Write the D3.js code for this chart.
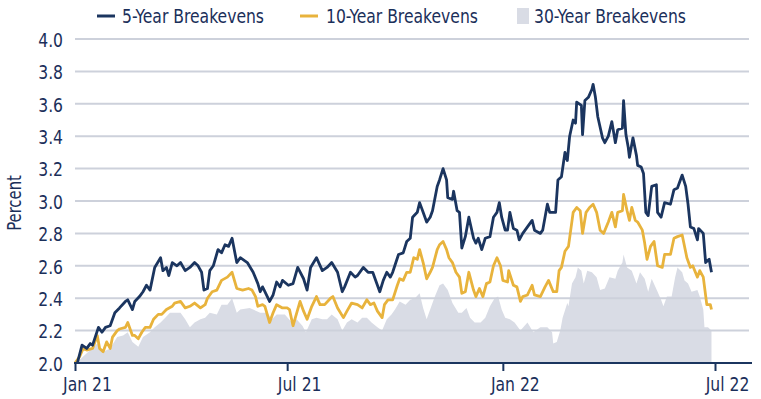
<!DOCTYPE html>
<html>
<head>
<meta charset="utf-8">
<script src="https://cdn.jsdelivr.net/npm/d3@7"></script>
<style>
  body { margin: 0; background: #fff; }
  text { font-family: "Liberation Sans Narrow", "DejaVu Sans", sans-serif; font-stretch: condensed; fill: #1b2f5a; }
</style>
</head>
<body>
<script>
// breakeven data
const fiveYear = [
["2021-01-03",2.00],["2021-01-07",2.11],["2021-01-11",2.09],["2021-01-14",2.12],["2021-01-16",2.11],["2021-01-21",2.22],
["2021-01-24",2.19],["2021-01-27",2.22],["2021-01-31",2.23],["2021-02-04",2.31],["2021-02-08",2.34],["2021-02-13",2.38],
["2021-02-15",2.39],["2021-02-19",2.33],["2021-02-21",2.38],["2021-02-25",2.41],["2021-02-28",2.44],["2021-03-03",2.48],
["2021-03-06",2.45],["2021-03-10",2.59],["2021-03-15",2.65],["2021-03-17",2.57],["2021-03-20",2.59],["2021-03-22",2.54],
["2021-03-25",2.62],["2021-03-29",2.60],["2021-04-01",2.62],["2021-04-05",2.57],["2021-04-09",2.59],["2021-04-13",2.62],
["2021-04-16",2.60],["2021-04-19",2.56],["2021-04-21",2.45],["2021-04-24",2.46],["2021-04-26",2.57],["2021-04-29",2.60],
["2021-05-03",2.70],["2021-05-06",2.68],["2021-05-09",2.73],["2021-05-12",2.72],["2021-05-15",2.77],["2021-05-19",2.62],
["2021-05-22",2.65],["2021-05-28",2.62],["2021-06-02",2.56],["2021-06-06",2.49],["2021-06-08",2.44],["2021-06-10",2.47],
["2021-06-12",2.44],["2021-06-16",2.38],["2021-06-19",2.42],["2021-06-22",2.50],["2021-06-25",2.47],["2021-06-27",2.51],
["2021-07-02",2.48],["2021-07-06",2.49],["2021-07-10",2.59],["2021-07-15",2.52],["2021-07-18",2.45],["2021-07-21",2.59],
["2021-07-26",2.65],["2021-07-31",2.57],["2021-08-04",2.59],["2021-08-08",2.62],["2021-08-13",2.56],["2021-08-17",2.44],
["2021-08-19",2.47],["2021-08-24",2.56],["2021-08-28",2.53],["2021-08-30",2.54],["2021-09-04",2.59],["2021-09-08",2.56],
["2021-09-12",2.56],["2021-09-16",2.48],["2021-09-18",2.44],["2021-09-21",2.51],["2021-09-24",2.56],["2021-09-27",2.53],
["2021-09-29",2.56],["2021-10-04",2.67],["2021-10-08",2.68],["2021-10-11",2.75],["2021-10-14",2.77],["2021-10-16",2.90],
["2021-10-20",2.93],["2021-10-22",2.99],["2021-10-25",2.93],["2021-10-28",2.87],["2021-10-31",2.90],["2021-11-02",2.94],
["2021-11-06",3.09],["2021-11-08",3.13],["2021-11-11",3.20],["2021-11-14",3.13],["2021-11-15",3.02],["2021-11-19",3.01],
["2021-11-20",3.06],["2021-11-23",2.94],["2021-11-25",2.93],["2021-11-27",2.71],["2021-11-30",2.78],["2021-12-03",2.90],
["2021-12-07",2.77],["2021-12-09",2.74],["2021-12-11",2.77],["2021-12-14",2.70],["2021-12-17",2.77],["2021-12-21",2.78],
["2021-12-24",2.90],["2021-12-27",2.93],["2021-12-29",2.99],["2021-12-31",2.90],["2022-01-03",2.82],["2022-01-05",2.82],
["2022-01-07",2.93],["2022-01-10",2.83],["2022-01-13",2.82],["2022-01-15",2.76],["2022-01-18",2.80],["2022-01-22",2.84],
["2022-01-26",2.88],["2022-01-28",2.82],["2022-02-02",2.80],["2022-02-04",2.82],["2022-02-08",2.98],["2022-02-10",2.93],
["2022-02-15",2.93],["2022-02-17",3.13],["2022-02-20",3.15],["2022-02-23",3.30],["2022-02-25",3.25],["2022-02-27",3.40],
["2022-03-02",3.50],["2022-03-04",3.48],["2022-03-05",3.61],["2022-03-09",3.59],["2022-03-10",3.41],["2022-03-12",3.62],
["2022-03-15",3.64],["2022-03-18",3.69],["2022-03-19",3.72],["2022-03-21",3.64],["2022-03-23",3.52],["2022-03-27",3.39],
["2022-03-29",3.36],["2022-04-01",3.40],["2022-04-04",3.49],["2022-04-07",3.36],["2022-04-09",3.44],["2022-04-13",3.45],
["2022-04-14",3.62],["2022-04-16",3.41],["2022-04-18",3.33],["2022-04-19",3.27],["2022-04-22",3.39],["2022-04-25",3.28],
["2022-04-26",3.22],["2022-04-29",3.21],["2022-05-01",3.17],["2022-05-03",2.93],["2022-05-05",2.91],["2022-05-08",3.09],
["2022-05-12",3.10],["2022-05-13",2.93],["2022-05-16",2.90],["2022-05-19",2.99],["2022-05-24",2.98],["2022-05-27",3.07],
["2022-05-30",3.08],["2022-06-03",3.16],["2022-06-06",3.09],["2022-06-08",2.98],["2022-06-10",2.84],["2022-06-13",2.83],
["2022-06-16",2.76],["2022-06-17",2.83],["2022-06-21",2.80],["2022-06-23",2.62],["2022-06-26",2.64],["2022-06-28",2.56]
];

const tenYear = [
["2021-01-01",2.00],["2021-01-05",2.04],["2021-01-08",2.09],["2021-01-11",2.08],["2021-01-16",2.09],["2021-01-20",2.17],
["2021-01-22",2.09],["2021-01-25",2.07],["2021-01-28",2.13],["2021-01-31",2.09],["2021-02-02",2.16],["2021-02-06",2.20],
["2021-02-08",2.21],["2021-02-13",2.22],["2021-02-15",2.25],["2021-02-19",2.17],["2021-02-21",2.17],["2021-02-24",2.15],
["2021-02-27",2.19],["2021-03-02",2.22],["2021-03-06",2.22],["2021-03-09",2.27],["2021-03-13",2.30],["2021-03-16",2.30],
["2021-03-20",2.33],["2021-03-25",2.35],["2021-03-27",2.37],["2021-04-01",2.38],["2021-04-05",2.34],["2021-04-09",2.35],
["2021-04-13",2.37],["2021-04-18",2.34],["2021-04-22",2.36],["2021-04-24",2.40],["2021-04-28",2.44],["2021-05-02",2.45],
["2021-05-06",2.51],["2021-05-11",2.53],["2021-05-15",2.56],["2021-05-19",2.46],["2021-05-24",2.45],["2021-05-29",2.46],
["2021-06-01",2.45],["2021-06-04",2.41],["2021-06-06",2.35],["2021-06-10",2.36],["2021-06-12",2.35],["2021-06-16",2.25],
["2021-06-19",2.31],["2021-06-22",2.36],["2021-06-27",2.34],["2021-07-01",2.34],["2021-07-03",2.33],["2021-07-06",2.23],
["2021-07-08",2.28],["2021-07-12",2.38],["2021-07-15",2.32],["2021-07-18",2.27],["2021-07-22",2.35],["2021-07-26",2.41],
["2021-07-29",2.36],["2021-08-02",2.36],["2021-08-07",2.40],["2021-08-09",2.41],["2021-08-13",2.34],["2021-08-18",2.28],
["2021-08-21",2.32],["2021-08-25",2.37],["2021-08-30",2.36],["2021-09-03",2.34],["2021-09-07",2.39],["2021-09-10",2.36],
["2021-09-13",2.37],["2021-09-16",2.32],["2021-09-20",2.28],["2021-09-22",2.36],["2021-09-25",2.39],["2021-09-29",2.39],
["2021-10-03",2.48],["2021-10-05",2.52],["2021-10-08",2.51],["2021-10-11",2.56],["2021-10-14",2.56],["2021-10-17",2.65],
["2021-10-20",2.64],["2021-10-22",2.70],["2021-10-25",2.62],["2021-10-28",2.52],["2021-10-31",2.56],["2021-11-02",2.59],
["2021-11-06",2.70],["2021-11-08",2.73],["2021-11-11",2.75],["2021-11-14",2.70],["2021-11-16",2.65],["2021-11-19",2.62],
["2021-11-22",2.56],["2021-11-25",2.53],["2021-11-27",2.43],["2021-11-30",2.44],["2021-12-03",2.56],["2021-12-07",2.45],
["2021-12-09",2.41],["2021-12-12",2.46],["2021-12-15",2.41],["2021-12-18",2.49],["2021-12-21",2.50],["2021-12-24",2.60],
["2021-12-27",2.65],["2021-12-30",2.60],["2022-01-01",2.51],["2022-01-05",2.50],["2022-01-06",2.57],["2022-01-10",2.48],
["2022-01-13",2.47],["2022-01-16",2.38],["2022-01-18",2.41],["2022-01-22",2.42],["2022-01-26",2.48],["2022-01-28",2.42],
["2022-02-02",2.41],["2022-02-06",2.47],["2022-02-09",2.51],["2022-02-13",2.44],["2022-02-16",2.44],["2022-02-18",2.57],
["2022-02-20",2.59],["2022-02-23",2.69],["2022-02-26",2.72],["2022-03-02",2.93],["2022-03-05",2.96],["2022-03-08",2.94],
["2022-03-10",2.80],["2022-03-13",2.93],["2022-03-16",2.96],["2022-03-19",2.98],["2022-03-22",2.93],["2022-03-25",2.82],
["2022-03-28",2.80],["2022-04-01",2.87],["2022-04-04",2.93],["2022-04-07",2.84],["2022-04-09",2.93],["2022-04-13",2.94],
["2022-04-14",3.04],["2022-04-17",2.94],["2022-04-19",2.88],["2022-04-21",2.96],["2022-04-24",2.88],["2022-04-26",2.87],
["2022-04-30",2.82],["2022-05-02",2.74],["2022-05-04",2.64],["2022-05-07",2.72],["2022-05-10",2.75],["2022-05-13",2.60],
["2022-05-17",2.59],["2022-05-19",2.67],["2022-05-24",2.67],["2022-05-27",2.77],["2022-05-30",2.78],["2022-06-03",2.79],
["2022-06-07",2.65],["2022-06-10",2.59],["2022-06-12",2.60],["2022-06-16",2.53],["2022-06-18",2.57],["2022-06-21",2.53],
["2022-06-24",2.36],["2022-06-27",2.36],["2022-06-28",2.33]
];

const thirtyYear = [
["2021-01-01",2.00],["2021-01-05",2.02],["2021-01-11",2.06],["2021-01-20",2.12],["2021-01-25",2.07],["2021-01-31",2.09],
["2021-02-06",2.16],["2021-02-11",2.17],["2021-02-15",2.19],["2021-02-19",2.13],["2021-02-24",2.10],["2021-02-28",2.16],
["2021-03-06",2.19],["2021-03-10",2.22],["2021-03-15",2.25],["2021-03-19",2.28],["2021-03-23",2.31],["2021-03-27",2.31],
["2021-04-01",2.31],["2021-04-05",2.27],["2021-04-09",2.22],["2021-04-13",2.25],["2021-04-18",2.27],["2021-04-22",2.28],
["2021-04-26",2.31],["2021-05-02",2.30],["2021-05-06",2.36],["2021-05-11",2.36],["2021-05-15",2.40],["2021-05-19",2.31],
["2021-05-22",2.33],["2021-05-30",2.34],["2021-06-08",2.31],["2021-06-14",2.31],["2021-06-18",2.27],["2021-06-22",2.30],
["2021-06-29",2.30],["2021-07-05",2.25],["2021-07-09",2.27],["2021-07-14",2.23],["2021-07-17",2.19],["2021-07-22",2.27],
["2021-07-26",2.28],["2021-07-31",2.27],["2021-08-04",2.27],["2021-08-08",2.30],["2021-08-13",2.27],["2021-08-17",2.20],
["2021-08-21",2.25],["2021-08-25",2.27],["2021-08-30",2.25],["2021-09-03",2.28],["2021-09-07",2.28],["2021-09-11",2.25],
["2021-09-16",2.22],["2021-09-20",2.20],["2021-09-24",2.27],["2021-09-28",2.30],["2021-10-01",2.33],["2021-10-05",2.38],
["2021-10-10",2.36],["2021-10-14",2.39],["2021-10-18",2.40],["2021-10-22",2.43],["2021-10-25",2.34],["2021-10-28",2.27],
["2021-10-31",2.33],["2021-11-04",2.41],["2021-11-08",2.48],["2021-11-11",2.49],["2021-11-15",2.45],["2021-11-19",2.37],
["2021-11-24",2.31],["2021-11-27",2.31],["2021-12-01",2.34],["2021-12-04",2.28],["2021-12-08",2.25],["2021-12-13",2.25],
["2021-12-17",2.28],["2021-12-21",2.35],["2021-12-25",2.40],["2021-12-28",2.41],["2021-12-31",2.33],["2022-01-03",2.28],
["2022-01-07",2.27],["2022-01-11",2.25],["2022-01-16",2.20],["2022-01-22",2.25],["2022-01-27",2.19],["2022-02-02",2.22],
["2022-02-08",2.22],["2022-02-12",2.19],["2022-02-13",2.12],["2022-02-16",2.13],["2022-02-19",2.20],["2022-02-21",2.28],
["2022-02-25",2.37],["2022-02-26",2.35],["2022-03-01",2.49],["2022-03-04",2.53],["2022-03-06",2.59],["2022-03-09",2.57],
["2022-03-11",2.49],["2022-03-14",2.57],["2022-03-18",2.56],["2022-03-22",2.53],["2022-03-25",2.45],["2022-03-29",2.46],
["2022-04-02",2.53],["2022-04-07",2.52],["2022-04-09",2.57],["2022-04-13",2.62],["2022-04-14",2.67],["2022-04-17",2.59],
["2022-04-21",2.57],["2022-04-25",2.49],["2022-04-28",2.56],["2022-05-02",2.52],["2022-05-05",2.44],["2022-05-08",2.52],
["2022-05-13",2.44],["2022-05-16",2.39],["2022-05-18",2.35],["2022-05-21",2.41],["2022-05-25",2.41],["2022-05-28",2.53],
["2022-05-30",2.59],["2022-06-03",2.56],["2022-06-05",2.51],["2022-06-08",2.49],["2022-06-11",2.44],["2022-06-16",2.45],
["2022-06-18",2.41],["2022-06-21",2.33],["2022-06-22",2.22],["2022-06-25",2.22],["2022-06-28",2.20]
];

const yTicks = [2.0, 2.2, 2.4, 2.6, 2.8, 3.0, 3.2, 3.4, 3.6, 3.8, 4.0];
const xTicks = ["2021-01-01", "2021-07-01", "2022-01-01", "2022-07-01"];
const xTickLabels = ["Jan 21", "Jul 21", "Jan 22", "Jul 22"];
const legendNames = ["5-Year Breakevens", "10-Year Breakevens", "30-Year Breakevens"];

const navy = "#1b355f", gold = "#e8b33c", grey = "#d9dce5", grid = "#cdd1db";

const w = 761, h = 399;
const parse = d3.timeParse("%Y-%m-%d");

const svg = d3.select("body").append("svg")
  .attr("width", w)
  .attr("height", h);

const x = d3.scaleTime()
  .domain([parse("2021-01-01"), parse("2022-07-01")])
  .range([75, 715]);
const y = d3.scaleLinear()
  .domain([2, 4])
  .range([363, 39]);

const asPts = arr => arr.map(d => ({ date: parse(d[0]), v: d[1] }));

// 30 year area
svg.append("path")
  .datum(asPts(thirtyYear))
  .attr("fill", grey)
  .attr("d", d3.area().x(d => x(d.date)).y0(y(2)).y1(d => y(d.v)));

// gridlines
svg.append("g")
  .selectAll("line")
  .data(yTicks.filter(t => t > 2))
  .enter().append("line")
  .attr("x1", 75).attr("x2", 749)
  .attr("y1", d => y(d)).attr("y2", d => y(d))
  .attr("stroke", grid)
  .attr("stroke-width", 2);

// y labels
const yAxis = d3.axisLeft(y).tickValues(yTicks).tickFormat(d3.format(".1f")).tickSize(0).tickPadding(12);
const ya = svg.append("g").attr("transform", "translate(75,0)").call(yAxis);
ya.select(".domain").remove();
ya.selectAll("text").attr("font-size", 20).attr("font-family", null).attr("fill", navy).attr("dy", "0.36em");

// lines
const line = d3.line().x(d => x(d.date)).y(d => y(d.v));
svg.append("path").datum(asPts(tenYear))
  .attr("fill", "none").attr("stroke", gold).attr("stroke-width", 2.8)
  .attr("stroke-linejoin", "round").attr("d", line);
svg.append("path").datum(asPts(fiveYear))
  .attr("fill", "none").attr("stroke", navy).attr("stroke-width", 2.8)
  .attr("stroke-linejoin", "round").attr("d", line);

// x axis
const xAxis = d3.axisBottom(x)
  .tickValues(xTicks.map(parse))
  .tickFormat((d, i) => xTickLabels[i])
  .tickSizeInner(8).tickSizeOuter(0).tickPadding(6);
const xa = svg.append("g").attr("transform", "translate(0,363)").call(xAxis);
xa.select(".domain").attr("d", "M74,0H752").attr("stroke", navy).attr("stroke-width", 2);
xa.selectAll(".tick line").attr("stroke", navy).attr("stroke-width", 2);
xa.selectAll("text").attr("font-size", 20).attr("font-family", null).attr("fill", navy).attr("dx", 12);

// y title
svg.append("text")
  .attr("transform", "translate(21,203) rotate(-90)")
  .attr("text-anchor", "middle")
  .attr("font-size", 19)
  .text("Percent");

// legend
const lg = svg.append("g");
lg.append("line").attr("x1", 97).attr("x2", 115).attr("y1", 16).attr("y2", 16).attr("stroke", navy).attr("stroke-width", 3);
lg.append("line").attr("x1", 300).attr("x2", 318).attr("y1", 16).attr("y2", 16).attr("stroke", gold).attr("stroke-width", 3);
lg.append("rect").attr("x", 517).attr("y", 8).attr("width", 12).attr("height", 16).attr("fill", grey);
lg.selectAll("text.lg")
  .data(legendNames)
  .enter().append("text")
  .attr("class", "lg")
  .attr("x", (d, i) => [122, 326, 534][i])
  .attr("y", 23)
  .attr("font-size", 20)
  .text(d => d);

// if no narrow face was found, squeeze glyphs to the narrow widths of the original
const probe = svg.select("text.lg").node();
const squeeze = 142 / probe.getComputedTextLength();
if (squeeze < 0.97) {
  svg.selectAll("text").each(function() {
    const len = this.getComputedTextLength();
    d3.select(this).attr("textLength", len * squeeze).attr("lengthAdjust", "spacingAndGlyphs");
  });
}
</script>
</body>
</html>
